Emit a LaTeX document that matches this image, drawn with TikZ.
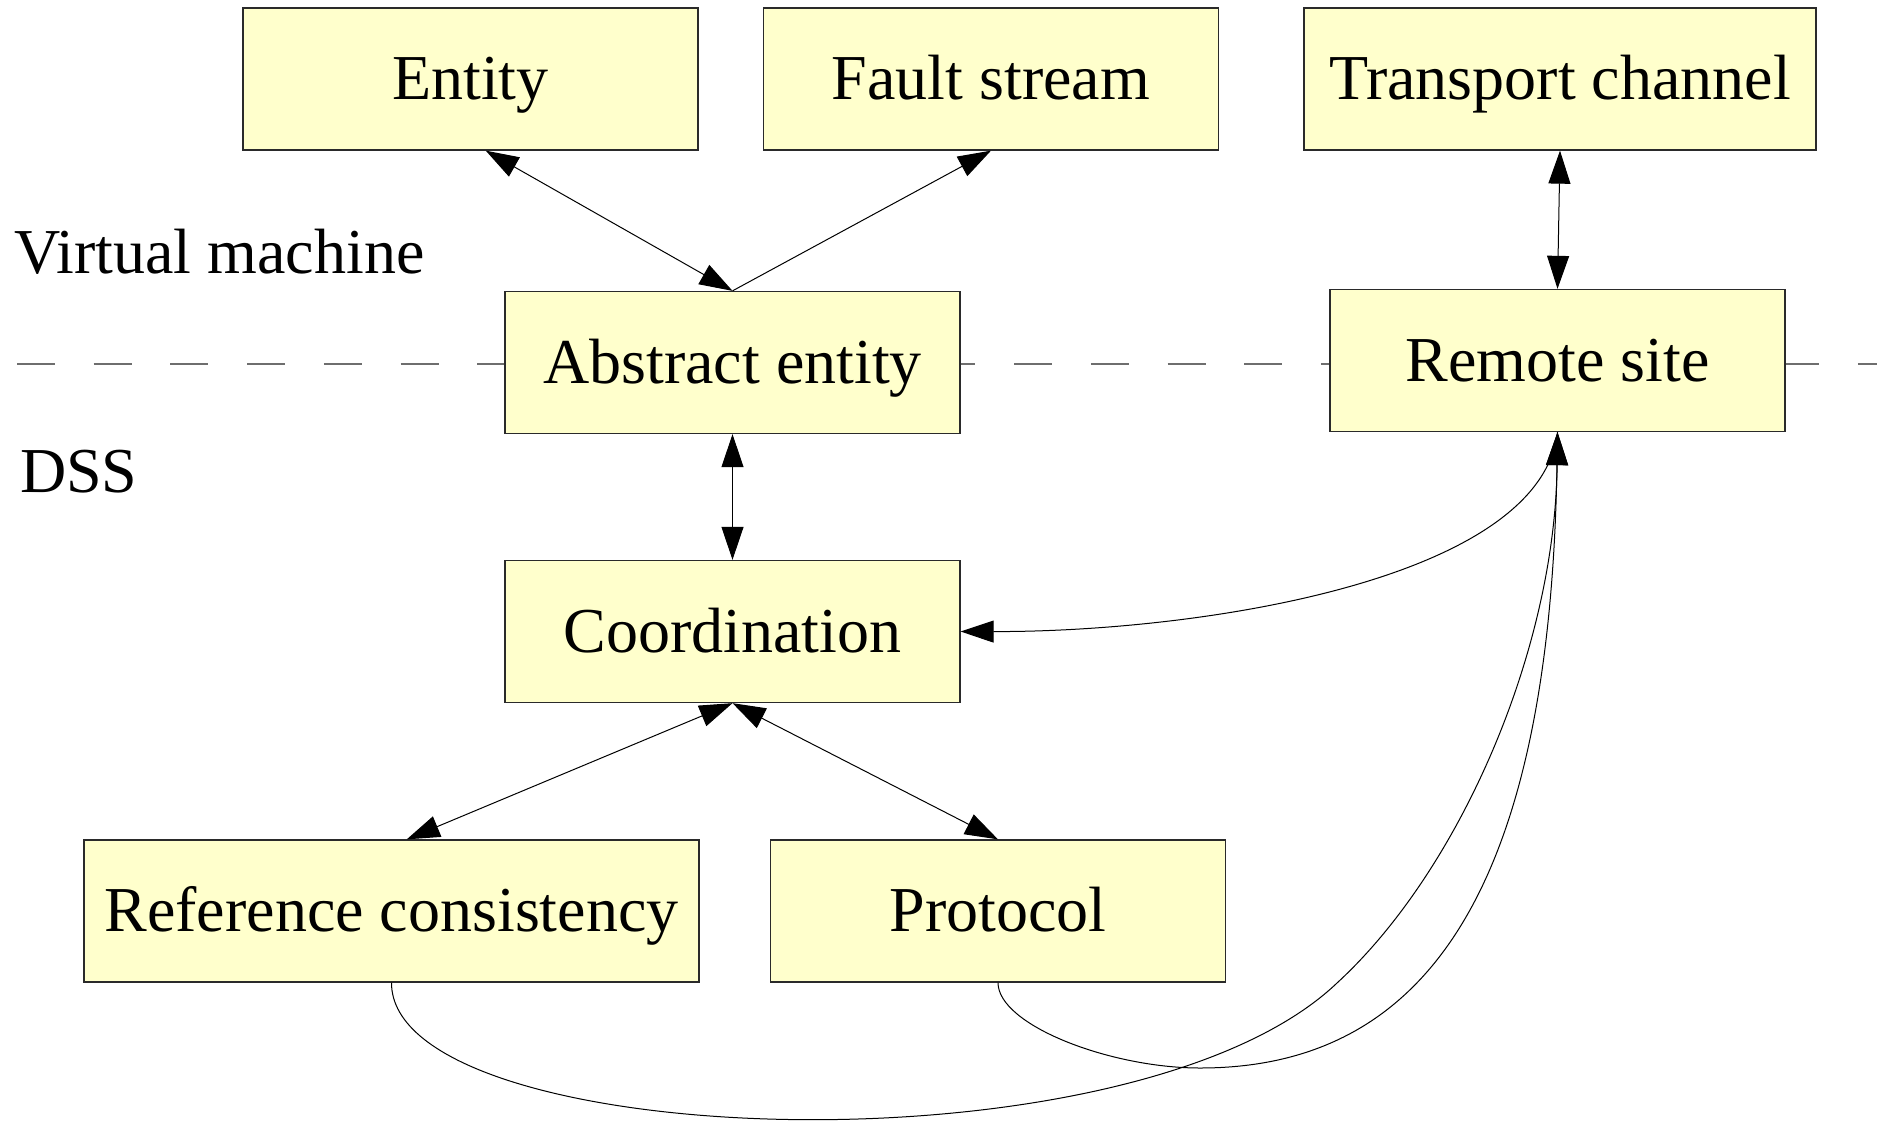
\documentclass[tikz,border=0pt]{standalone}
\usepackage{fontspec}
\setmainfont{Liberation Serif}
\usepackage{xcolor}
\usepackage{tikz}
\usetikzlibrary{arrows.meta}
\definecolor{boxfill}{HTML}{FFFFCC}
\definecolor{boxline}{HTML}{2A2A2A}
\definecolor{rule}{HTML}{6E6E6E}
\tikzset{
  layer/.style={draw=boxline, fill=boxfill, line width=1.3pt, minimum height=142pt,
    minimum width=455pt, inner sep=0pt, text height=47pt, text depth=6pt,
    font=\fontsize{64}{76}\selectfont},
  lab/.style={anchor=base west, inner sep=0pt, font=\fontsize{64}{76}\selectfont},
  split/.style={draw=rule, line width=1.4pt, dash pattern=on 38pt off 38.7pt},
  link/.style={draw=black, line width=1pt},
  both/.style={link, {Triangle[length=33pt,width=22pt]}-{Triangle[length=33pt,width=22pt]}},
  tip/.style={link, -{Triangle[length=33pt,width=22pt]}},
}
\begin{document}
\begin{tikzpicture}[x=1pt,y=-1pt]
  \useasboundingbox (0,0) rectangle (1877,1128);

  % levels
  \coordinate (sl) at (17,364);
  \coordinate (sr) at (1877,364);
  \draw[split] (sl) -- (sr);
  \node[lab] (vm) at (14,273) {Virtual machine};
  \node[lab] (dss) at (20,492) {DSS};

  % boxes
  \node[layer] (entity) at (470.5,79) {Entity};
  \node[layer] (fault) at (991,79) {Fault stream};
  \node[layer, minimum width=512pt] (transport) at (1560,79) {Transport channel};
  \node[layer] (abstract) at (732.5,362.5) {Abstract entity};
  \node[layer] (remote) at (1557.5,360.5) {Remote site};
  \node[layer] (coord) at (732.5,631.5) {Coordination};
  \node[layer, minimum width=615pt] (refcons) at (391.5,911) {Reference consistency};
  \node[layer] (protocol) at (998,911) {Protocol};

  % links
  \draw[both] (entity.-78) -- (abstract.north);
  \draw[tip] (abstract.north) -- (fault.south);
  \draw[both] (transport.south) -- (remote.north);
  \draw[both] (abstract.south) -- (coord.north);
  \draw[both] (refcons.78) -- (coord.south);
  \draw[both] (coord.south) -- (protocol.north);
  \draw[tip] (remote.south) .. controls (1540,580) and (1200,632) .. (coord.east);
  \draw[tip] (refcons.south) .. controls (391,1150) and (1130,1180) .. (1337,983)
    .. controls (1460,870) and (1555,650) .. (remote.south);
  \draw[tip] (protocol.south) .. controls (998,1025) and (1110,1068) .. (1200,1068)
    .. controls (1420,1068) and (1550,900) .. (remote.south);
\end{tikzpicture}
\end{document}
